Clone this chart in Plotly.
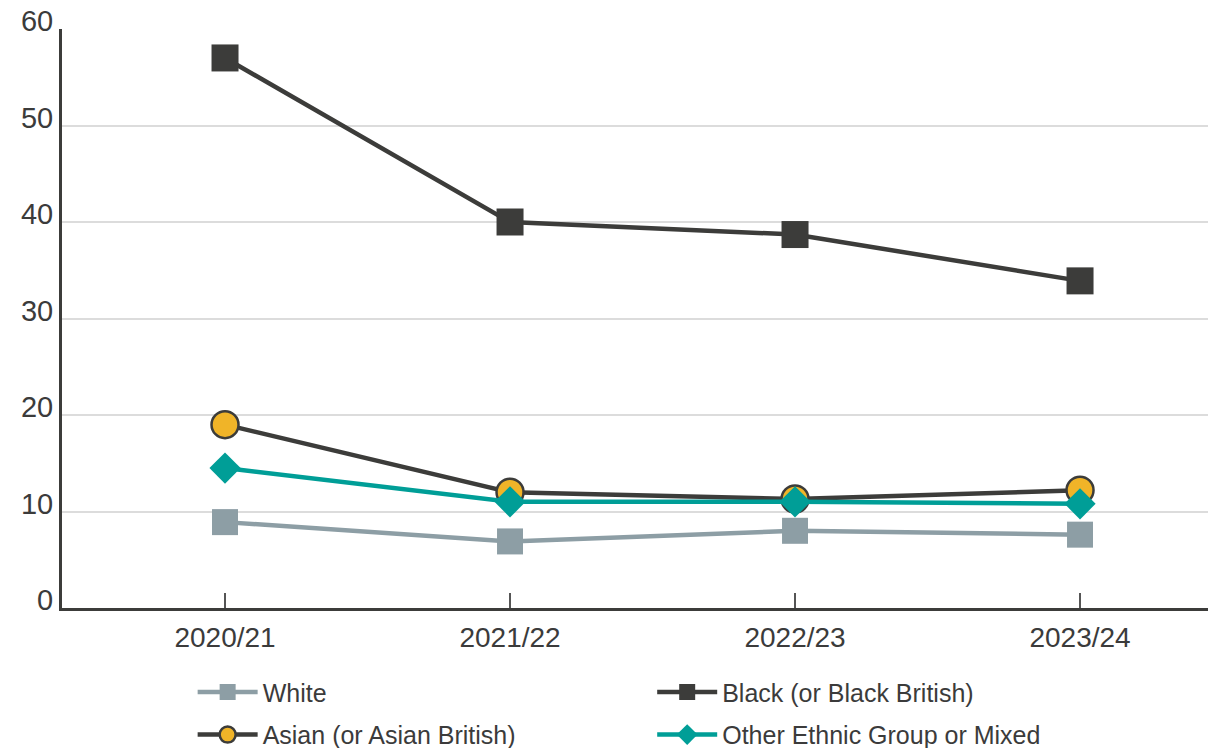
import plotly.graph_objects as go

# Survey years on the x axis
years = ["2020/21", "2021/22", "2022/23", "2023/24"]

# Rate per ethnic group, by year
white = [8.9, 6.9, 8.0, 7.6]
black = [57.0, 40.0, 38.7, 33.9]
asian = [19.0, 12.0, 11.3, 12.2]
other = [14.5, 11.0, 11.0, 10.8]

y_ticks = [0, 10, 20, 30, 40, 50, 60]

DARK = "#3c3c3a"
GREY = "#8d9ea5"
TEAL = "#009e97"
GOLD = "#f0b428"
TEXT = "#3b3b3b"

xpos = list(range(len(years)))

fig = go.Figure()

fig.add_trace(go.Scatter(
    x=xpos, y=white, name="White", mode="lines+markers",
    line=dict(color=GREY, width=4.5),
    marker=dict(symbol="square", size=26, color=GREY),
    legend="legend", legendgroup="w",
))
fig.add_trace(go.Scatter(
    x=xpos, y=black, name="Black (or Black British)", mode="lines+markers",
    line=dict(color=DARK, width=4.5),
    marker=dict(symbol="square", size=27, color=DARK),
    legend="legend2", legendgroup="b",
))
fig.add_trace(go.Scatter(
    x=xpos, y=asian, name="Asian (or Asian British)", mode="lines+markers",
    line=dict(color=DARK, width=4.5),
    marker=dict(symbol="circle", size=27, color=GOLD,
                line=dict(color=DARK, width=2.5)),
    legend="legend", legendgroup="a",
))
fig.add_trace(go.Scatter(
    x=xpos, y=other, name="Other Ethnic Group or Mixed", mode="lines+markers",
    line=dict(color=TEAL, width=4.5),
    marker=dict(symbol="diamond", size=24, color=TEAL),
    legend="legend2", legendgroup="o",
))

legend_style = dict(
    orientation="v",
    xanchor="left", yanchor="top",
    font=dict(family="Liberation Sans, Arial, sans-serif", size=25, color=TEXT),
    bgcolor="rgba(0,0,0,0)",
    itemsizing="trace",
    itemwidth=60,
    tracegroupgap=7,
)

fig.update_layout(
    width=1208, height=748,
    margin=dict(l=62, r=0, t=29, b=140, autoexpand=False),
    paper_bgcolor="white", plot_bgcolor="white",
    font=dict(family="Liberation Sans, Arial, sans-serif", color=TEXT),
    showlegend=True,
    legend=dict(x=0.114, y=-0.106, **legend_style),
    legend2=dict(x=0.515, y=-0.106, **legend_style),
    xaxis=dict(
        range=[-0.572, 3.449],
        tickmode="array", tickvals=xpos, ticktext=years,
        ticks="inside", ticklen=15, tickwidth=2, tickcolor="#555555",
        tickfont=dict(size=28, color=TEXT),
        showgrid=False, zeroline=False,
        showline=True, linecolor=DARK, linewidth=3,
        ticklabelstandoff=2,
    ),
    yaxis=dict(
        range=[0, 60],
        tickmode="array", tickvals=y_ticks,
        ticks="", tickfont=dict(size=29, color=TEXT),
        showgrid=True, gridcolor="#dcdcdc", gridwidth=1.5,
        zeroline=False,
        showline=True, linecolor=DARK, linewidth=3,
        ticklabelshift=-8, ticklabelstandoff=0,
    ),
)

fig.write_html("out.html")
